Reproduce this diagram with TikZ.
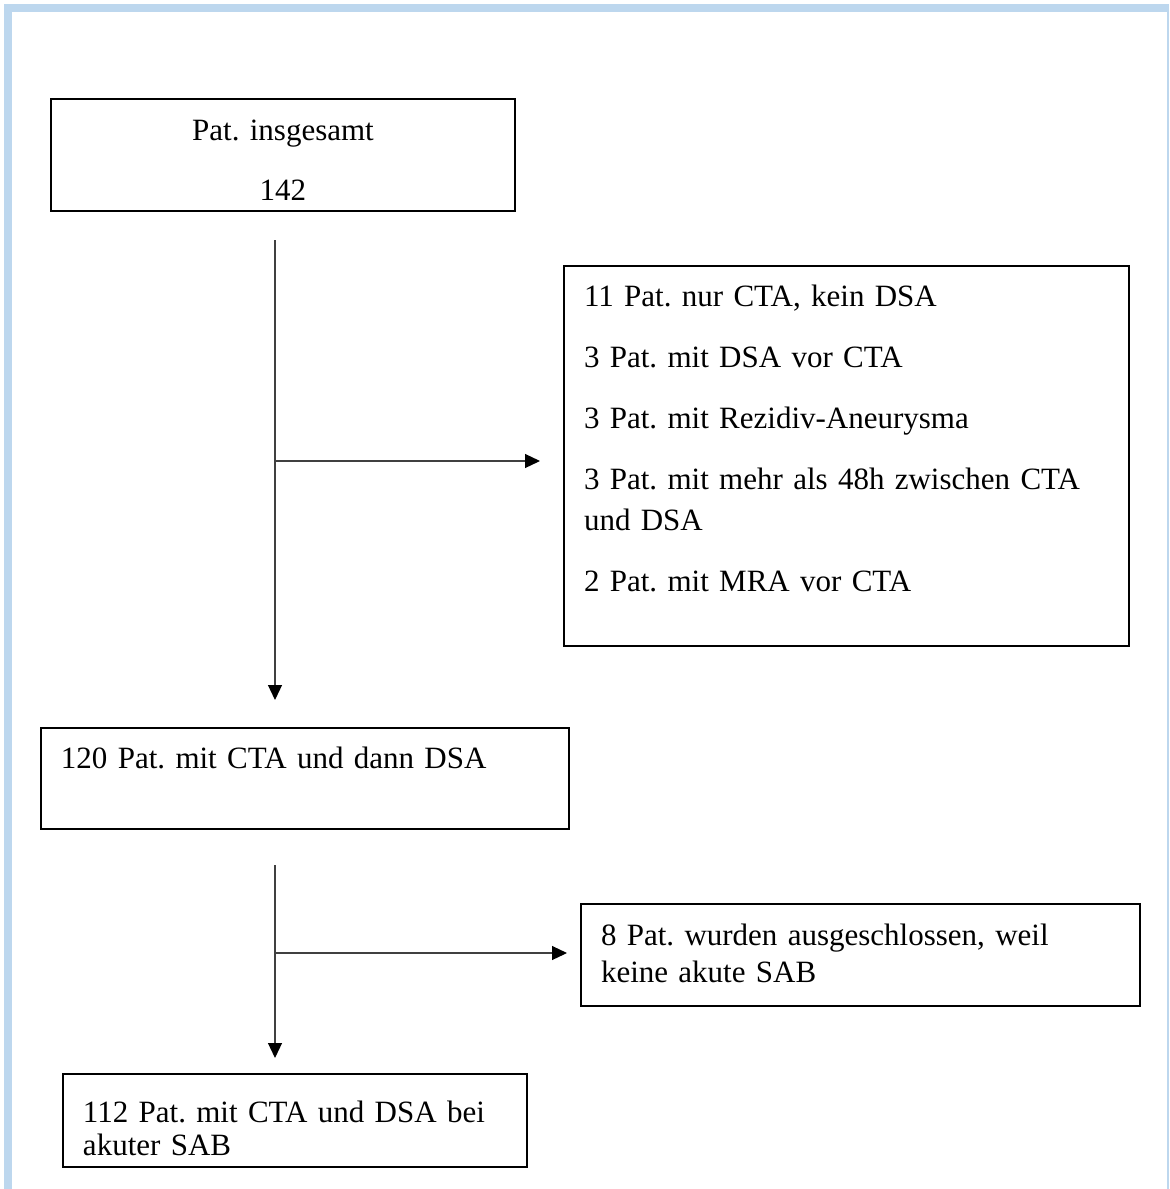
\documentclass[tikz,border=0pt]{standalone}
\usepackage{fontspec}
\setmainfont{Liberation Serif}
\usetikzlibrary{arrows.meta}
\definecolor{framebl}{RGB}{189,215,238}
\definecolor{linegrey}{RGB}{64,64,64}
\frenchspacing
\tikzset{
  flowbox/.style={draw=black,line width=1pt,anchor=north west,inner xsep=10pt,inner ysep=0pt,align=left,font=\fontsize{15.5}{20.5}\selectfont},
  flow/.style={-{Triangle[length=7.5pt,width=7pt,color=black]},line width=0.6pt,draw=linegrey}
}
\begin{document}
\begin{tikzpicture}[x=0.5pt,y=-0.5pt]
  \useasboundingbox (0,0) rectangle (1170,1189);
  % frame
  \fill[framebl] (4,4) rectangle (1169,12);
  \fill[framebl] (4,12) rectangle (12,1189);
  \fill[framebl] (1167,12) rectangle (1169,1189);
  % boxes
  \node[flowbox,align=center,text width=212pt,text height=20.5pt,text depth=35.5pt,font=\fontsize{15.5}{30}\selectfont] (total) at (50,98) {Pat. insgesamt\\142};
  \node[flowbox,text width=262.5pt,text height=20pt,text depth=170pt] (excl) at (563,265)
    {11 Pat. nur CTA, kein DSA\\[10pt]3 Pat. mit DSA vor CTA\\[10pt]3 Pat. mit Rezidiv-Aneurysma\\[10pt]3 Pat. mit mehr als 48h zwischen CTA\\und DSA\\[10pt]2 Pat. mit MRA vor CTA};
  \node[flowbox,text width=244pt,text height=20pt,text depth=30.5pt] (both) at (40,727) {120 Pat. mit CTA und dann DSA};
  \node[flowbox,text width=259.5pt,text height=20.5pt,text depth=30.5pt,font=\fontsize{15.5}{18.5}\selectfont] (nosab) at (580,903) {8 Pat. wurden ausgeschlossen, weil\\keine akute SAB};
  \node[flowbox,text width=212pt,text height=24pt,text depth=22.5pt,font=\fontsize{15.5}{16.5}\selectfont] (final) at (62,1073) {112 Pat. mit CTA und DSA bei\\akuter SAB};
  % connectors
  \coordinate (t1) at (275,240);
  \coordinate (t2) at (275,700);
  \coordinate (j1) at (275,461);
  \coordinate (t3) at (275,865);
  \coordinate (t4) at (275,1058);
  \coordinate (j2) at (275,953);
  \draw[flow] (t1) -- (t2);
  \draw[flow,shorten >=11.5pt] (j1) -- (j1 -| excl.west);
  \draw[flow] (t3) -- (t4);
  \draw[flow,shorten >=6.5pt] (j2) -- (j2 -| nosab.west);
\end{tikzpicture}
\end{document}
